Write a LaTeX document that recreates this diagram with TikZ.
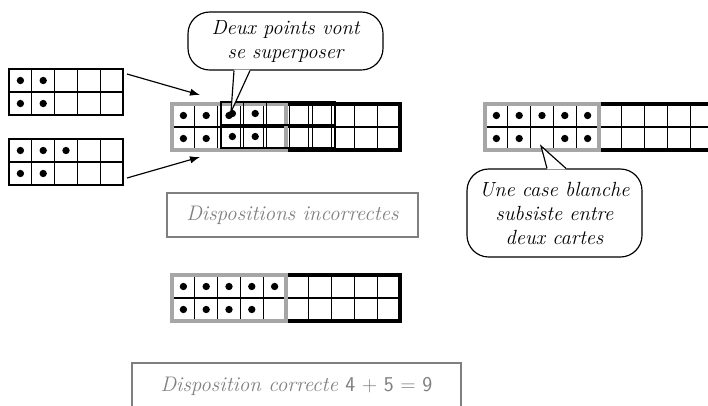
\documentclass[tikz,border=0pt]{standalone}
\usepackage{tikz}
\usetikzlibrary{arrows.meta, calc, positioning}

\definecolor{grisCarte}{HTML}{A6A6A6}
\definecolor{grisTexte}{HTML}{7F7F7F}

\begin{document}
\begin{tikzpicture}[
    x=0.3mm, y=-0.3mm,
    carte/.style={draw, line width=0.35mm, minimum width=34.2mm, minimum height=13.8mm, inner sep=0pt, outer sep=0pt},
    carteGrise/.style={carte, draw=grisCarte, line width=1.2mm},
    carteNoire/.style={carte, line width=1.2mm},
    bulle/.style={draw, fill=white, line width=0.35mm, rounded corners=6.5mm, align=center, font=\fontsize{17.5}{20.5}\selectfont\itshape},
    cadre/.style={draw=grisTexte, line width=0.6mm, text=grisTexte, font=\fontsize{18}{21}\selectfont\itshape},
    fleche/.style={->, >={Latex[length=3mm, width=2.2mm]}, line width=0.35mm},
    every node/.style={
        text centered,
        }
        ]
    \useasboundingbox (0,0) rectangle (708,405);

    \node[carte] (carteA) at (66,92) {};
    \node[carte, anchor=north, yshift=-7.2mm] (carteB) at (carteA.south) {};

    \node[carteNoire] (noirM) at (343,127) {};
    \node[carteGrise, anchor=east] (grisM) at (noirM.west) {};
    \node[carte, anchor=north west] (fineM) at ([shift={(49,-2)}]grisM.north west) {};

    \node[carteNoire] (noirD) at (656,127) {};
    \node[carteGrise, anchor=east] (grisD) at (noirD.west) {};

    \node[carteNoire] (noirB) at (343,298) {};
    \node[carteGrise, anchor=east] (grisB) at (noirB.west) {};

    % cases des cartes
    \foreach \c/\s in {carteA/0mm, carteB/0mm, noirM/0.6mm, grisM/0.6mm, fineM/0mm, noirD/0.6mm, grisD/0.6mm, noirB/0.6mm, grisB/0.6mm} {
        \foreach \i in {1,...,4}
            \draw[line width=0.35mm, shorten <=\s, shorten >=\s] ($(\c.north west)!\i/5!(\c.north east)$) -- ($(\c.south west)!\i/5!(\c.south east)$);
        \draw[line width=0.35mm, shorten <=\s, shorten >=\s] (\c.west) -- (\c.east);
    }

    % points
    \foreach \c/\n/\m in {carteA/2/2, carteB/3/2, grisM/3/2, fineM/2/2, grisD/5/2, grisB/5/4} {
        \foreach \i in {1,...,\n}
            \fill ($(\c.north west)+({(\i-0.5)*22.8},11.5)$) circle (1.1mm);
        \foreach \i in {1,...,\m}
            \fill ($(\c.north west)+({(\i-0.5)*22.8},34.5)$) circle (1.1mm);
    }
    \foreach \i in {4,5}
        \fill ($(grisD.north west)+({(\i-0.5)*22.8},34.5)$) circle (1.1mm);

    \coordinate (cible1) at ([shift={(28,-9)}]grisM.north west);
    \coordinate (cible2) at ([shift={(28,7)}]grisM.south west);
    \draw[fleche] ([shift={(4,5)}]carteA.north east) -- (cible1);
    \draw[fleche] ([shift={(4,-7)}]carteB.south east) -- (cible2);

    % bulles
    \node[bulle, minimum width=58.5mm, minimum height=17.4mm] (bulle1) at (285.5,41) {Deux points vont\\se superposer};
    \coordinate (pointe1) at ([shift={(59,8)}]grisM.north west);
    \fill[white] ([shift={(-51.5,-1)}]bulle1.south) -- (pointe1) -- ([shift={(-35.5,-1)}]bulle1.south) -- cycle;
    \draw[line width=0.35mm] ([shift={(-51.5,0)}]bulle1.south) -- (pointe1) -- ([shift={(-35.5,0)}]bulle1.south);

    \node[bulle, minimum width=52.5mm, minimum height=26.4mm] (bulle2) at (554.5,213) {Une case blanche\\subsiste entre\\deux cartes};
    \coordinate (pointe2) at ([shift={(56,42)}]grisD.north west);
    \fill[white] ([shift={(-7.5,1)}]bulle2.north) -- (pointe2) -- ([shift={(11.5,1)}]bulle2.north) -- cycle;
    \draw[line width=0.35mm] ([shift={(-7.5,0)}]bulle2.north) -- (pointe2) -- ([shift={(11.5,0)}]bulle2.north);

    \node[cadre, minimum width=75.3mm, minimum height=13.2mm] (titreFaux) at (292.5,215) {Dispositions incorrectes};
    \node[cadre, minimum width=98.7mm, minimum height=13.8mm] (titreJuste) at (296.5,386) {Disposition correcte {\upshape\sffamily 4 + 5 = 9}};
\end{tikzpicture}
\end{document}
